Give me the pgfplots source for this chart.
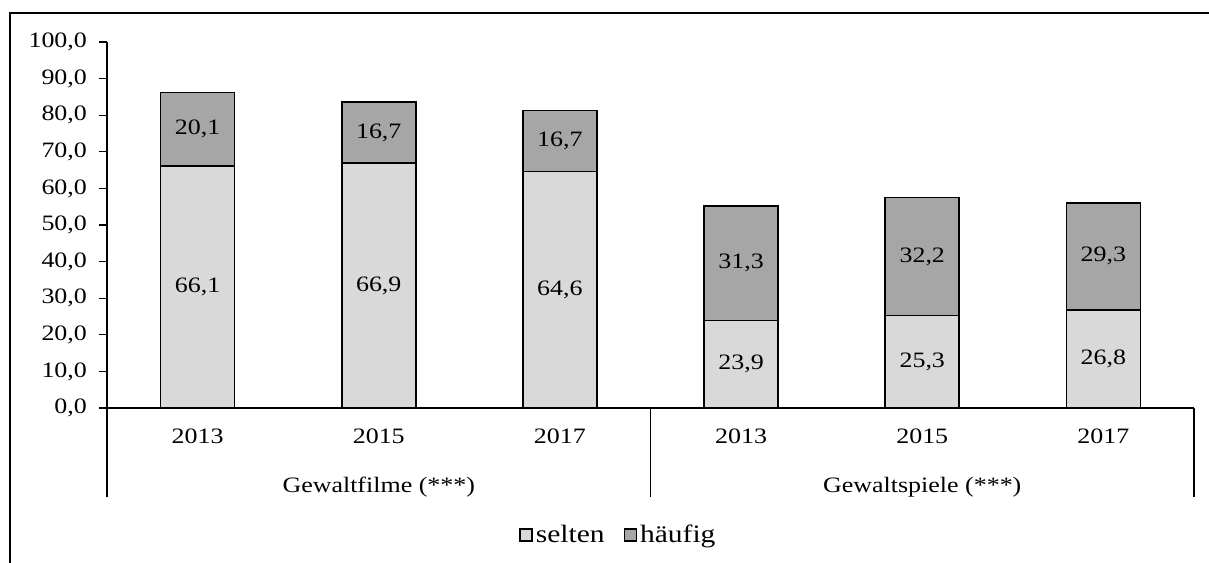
\documentclass[border=0pt]{standalone}
\usepackage{fontspec}
\setmainfont[FakeStretch=1.18]{Liberation Serif}
\usepackage{pgfplots}
\pgfplotsset{compat=1.18}
\usepackage{pgfplotstable}
\pgfplotstableread{
x s h
0 66.1 20.1
1 66.9 16.7
2 64.6 16.7
3 23.9 31.3
4 25.3 32.2
5 26.8 29.3
}\data
\definecolor{lightbar}{HTML}{D9D9D9}
\definecolor{darkbar}{HTML}{A6A6A6}
\newcommand{\ff}{\fontsize{11}{13}\selectfont}
\newcommand{\fl}{\fontsize{12.5}{14}\selectfont}
\begin{document}
\begin{tikzpicture}[font=\ff]
\path[use as bounding box] (0,0) rectangle (604.5pt,281pt);
\draw[line width=0.9pt] (5pt,-1pt) -- (5pt,274.5pt) -- (606pt,274.5pt);
\begin{axis}[
  at={(53.5pt,77pt)}, anchor=south west,
  scale only axis, width=543.5pt, height=183pt,
  ybar stacked, bar width=37pt,
  xmin=-0.5, xmax=5.5, ymin=0, ymax=100,
  axis x line*=bottom, axis y line*=left,
  xtick={0,...,5}, xticklabels={2013,2015,2017,2013,2015,2017},
  x tick style={draw=none},
  xticklabel style={yshift=-3pt},
  ytick={0,10,...,100},
  y tick style={black, line width=0.6pt},
  tick align=outside, major tick length=4pt,
  yticklabel style={xshift=-2.5pt, /pgf/number format/.cd, fixed, fixed zerofill, precision=1, use comma},
  /pgf/number format/assume math mode=true,
  ticklabel style={font=\ff},
  axis line style={line width=0.6pt},
  clip=false,
  legend style={at={(0.471,-0.347)}, anchor=center, draw=none, font=\fl,
    legend columns=2, nodes={inner xsep=1.5pt},
    /tikz/every even column/.append style={column sep=8pt}},
  legend image code/.code={\draw[#1,line width=0.7pt] (0pt,-3pt) rectangle (6pt,3pt);},
]
\addplot[fill=lightbar, draw=black, line width=0.9pt] table[x=x, y=s] {\data};
\addlegendentry{selten}
\addplot[fill=darkbar, draw=black, line width=0.9pt] table[x=x, y=h] {\data};
\addlegendentry{häufig}
\draw[line width=0.6pt] (axis cs:-0.5,0) -- ++(0pt,-44.5pt);
\draw[line width=0.6pt] (axis cs:2.5,0) -- ++(0pt,-44.5pt);
\draw[line width=0.6pt] (axis cs:5.5,0) -- ++(0pt,-44.5pt);
\node[font=\ff, yshift=-39.5pt] at (axis cs:1,0) {Gewaltfilme (***)};
\node[font=\ff, yshift=-39.5pt] at (axis cs:4,0) {Gewaltspiele (***)};
\end{axis}
\begin{axis}[
  at={(53.5pt,77pt)}, anchor=south west,
  scale only axis, width=543.5pt, height=183pt,
  xmin=-0.5, xmax=5.5, ymin=0, ymax=100,
  hide axis, clip=false,
  point meta=explicit,
  /pgf/number format/assume math mode=true,
  nodes near coords={\pgfmathprintnumber[fixed,fixed zerofill,precision=1,use comma,assume math mode=true]{\pgfplotspointmeta}},
  every node near coord/.append style={anchor=center, font=\ff, black},
]
\addplot[only marks, mark=none] table[x=x, y expr={\thisrow{s}/2}, meta=s] {\data};
\addplot[only marks, mark=none] table[x=x, y expr={\thisrow{s}+\thisrow{h}/2}, meta=h] {\data};
\end{axis}
\end{tikzpicture}
\end{document}
